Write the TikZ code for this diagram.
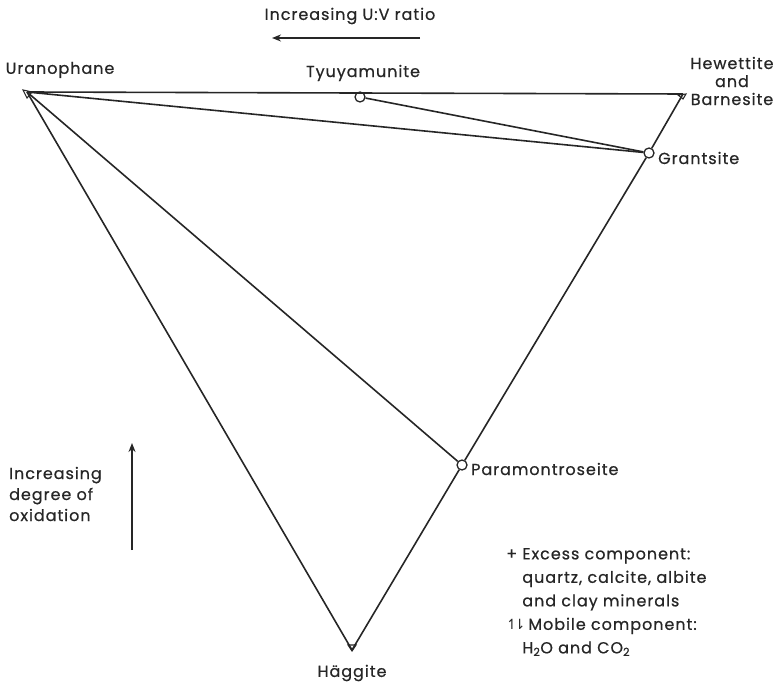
\documentclass[tikz,border=0pt]{standalone}
\usepackage{fontspec}
\setmainfont{Poppins}[LetterSpace=6,FakeBold=0.6]
\newfontfamily\symfont{DejaVu Sans}
\usetikzlibrary{arrows.meta}
\begin{document}
\begin{tikzpicture}[x=1pt,y=-1pt,
  lbl/.style={font=\fontsize{16}{18}\selectfont, text=black!85, inner sep=0pt},
  phase/.style={circle, draw, black!85, line width=1.3pt, minimum size=10pt, inner sep=0pt},
  edge/.style={draw, line width=1.6pt, black!85},
  vtxmark/.style={draw, line width=1.1pt, black!85},
  ax/.style={draw, line width=1.6pt, black!85, -{Stealth[length=9pt,width=7pt]}}]
\useasboundingbox (0,0) rectangle (782,687);
% vertices
\coordinate (U) at (27,92);
\coordinate (H) at (683,94);
\coordinate (Hg) at (352,650);
% phase points
\node[phase] (T) at (360,97) {};
\node[phase] (Gr) at (649,153) {};
\node[phase] (P) at (462,465) {};
% triangle sides
\draw[edge] (U) -- (H);
\draw[edge] (U) -- (Hg);
\draw[edge] (H) -- (Gr) -- (P) -- (Hg);
% tie lines
\draw[edge] (U) -- (Gr);
\draw[edge] (U) -- (P);
\draw[edge] (Gr) -- (T);
% vertex marks
\draw[vtxmark] (23,90) -- (32,92) -- (27,98) -- cycle;
\draw[vtxmark] (678,95) -- (686,94) -- (683,99) -- cycle;
\draw[vtxmark] (348,645) -- (356,645) -- (352,651) -- cycle;
% labels
\node[lbl] (lU) at (60,70) {Uranophane};
\node[lbl] (lT) at (363,73) {Tyuyamunite};
\node[lbl, align=center] (lH) at (732,81) {Hewettite\\and\\Barnesite};
\node[lbl, anchor=west] (lG) at (658,158) {Grantsite};
\node[lbl, anchor=west] (lP) at (471,469) {Paramontroseite};
\node[lbl] (lHg) at (352,673) {Häggite};
% top axis
\node[lbl] (ax1) at (350,16) {Increasing U:V ratio};
\coordinate (a1s) at (420,38);
\coordinate (a1e) at (272,38);
\draw[ax] (a1s) -- (a1e);
% left axis
\node[lbl, anchor=west, align=left, font=\fontsize{16}{21}\selectfont] (ax2) at (9,494) {Increasing\\degree of\\oxidation};
\coordinate (a2s) at (132,550);
\coordinate (a2e) at (132,443);
\draw[ax] (a2s) -- (a2e);
% legend
\node[lbl, anchor=north west, align=left, font=\fontsize{16}{23.5}\selectfont] (leg) at (506,548) {%
+ Excess component:\\
\hphantom{+ }quartz, calcite, albite\\
\hphantom{+ }and clay minerals\\
{\symfont\fontsize{14}{14}\selectfont ↿\kern-4pt⇂}\,Mobile component:\\
\hphantom{+ }H\textsubscript{2}O and CO\textsubscript{2}};
\end{tikzpicture}
\end{document}
